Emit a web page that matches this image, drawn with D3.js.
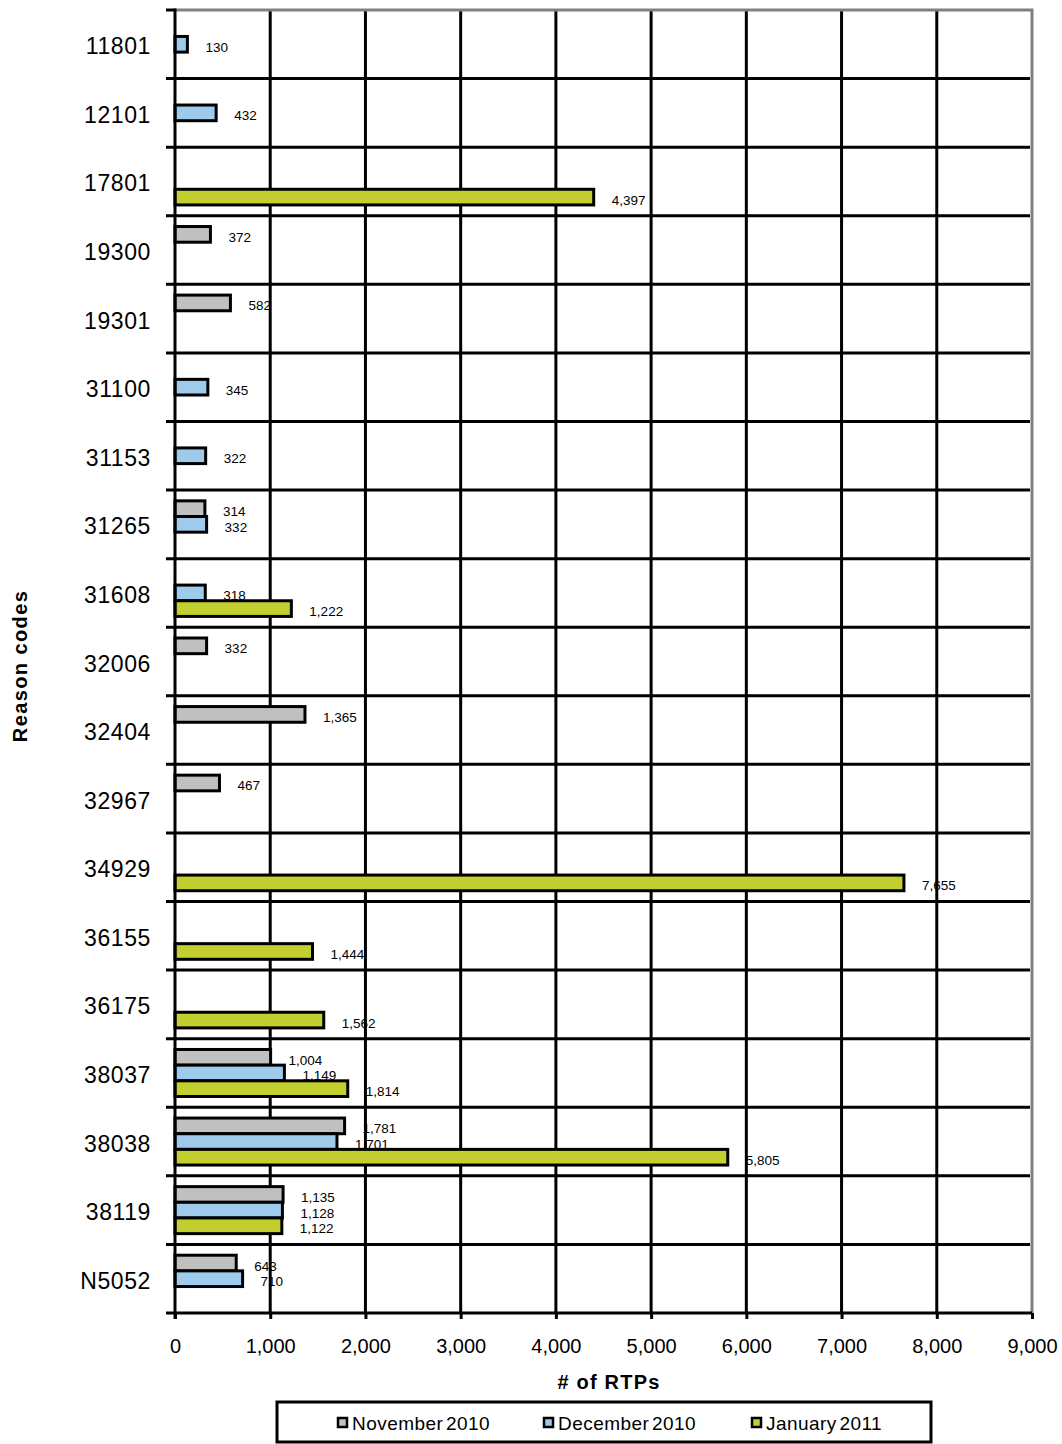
<!DOCTYPE html>
<html>
<head>
<meta charset="utf-8">
<script src="https://cdn.jsdelivr.net/npm/d3@7"></script>
<style>
  html, body { margin: 0; padding: 0; background: #fff; }
  svg { display: block; font-family: "Liberation Sans", Arial, sans-serif; }
</style>
</head>
<body>
<svg id="chart" width="1062" height="1444"></svg>
<script>
// Reason codes, top to bottom
const categories = ["11801","12101","17801","19300","19301","31100","31153","31265","31608",
  "32006","32404","32967","34929","36155","36175","38037","38038","38119","N5052"];

// RTP counts per month (null = no bar)
const november2010 = [null,null,null,372,582,null,null,314,null,332,1365,467,null,null,null,1004,1781,1135,643];
const december2010 = [130,432,null,null,null,345,322,332,318,null,null,null,null,null,null,1149,1701,1128,710];
const january2011  = [null,null,4397,null,null,null,null,null,1222,null,null,null,7655,1444,1562,1814,5805,1122,null];

const seriesNames = ["November 2010","December 2010","January 2011"];
const seriesColors = ["#c0c0c0","#9ecbec","#c3cf2f"];
const xTickValues = [0,1000,2000,3000,4000,5000,6000,7000,8000,9000];

const series = [november2010, december2010, january2011].map((vals, i) => ({
  name: seriesNames[i], color: seriesColors[i], values: vals
}));

const plot = { left: 175, right: 1032, top: 10, bottom: 1313 };

const svg = d3.select("#chart");
const fmt = d3.format(",");

const x = d3.scaleLinear().domain([0, 9000]).range([plot.left, plot.right]);
const y = d3.scaleBand().domain(categories).range([plot.top, plot.bottom]).padding(0);
const bw = y.bandwidth();
const groupH = 47;
const sub = d3.scaleBand().domain(seriesNames)
  .range([(bw - groupH) / 2, (bw + groupH) / 2]).padding(0);

// Value labels (drawn first, so gridlines and bars sit over them)
const labelLayer = svg.append("g");
series.forEach(s => {
  s.values.forEach((v, i) => {
    if (v == null) return;
    const cy = y(categories[i]) + sub(s.name) + sub.bandwidth() / 2;
    labelLayer.append("text")
      .attr("x", x(v) + 18)
      .attr("y", cy + 3)
      .attr("dominant-baseline", "central")
      .attr("font-size", 13.5)
      .attr("fill", "#000")
      .text(fmt(v));
  });
});

// Vertical gridlines
svg.append("g").selectAll("line")
  .data(xTickValues.filter(d => d > 0 && d < 9000))
  .join("line")
  .attr("x1", d => x(d)).attr("x2", d => x(d))
  .attr("y1", plot.top).attr("y2", plot.bottom)
  .attr("stroke", "#000").attr("stroke-width", 3);

// Horizontal gridlines between categories, with tick stubs left of the axis
const boundaries = categories.slice(1).map(c => y(c));
svg.append("g").selectAll("line")
  .data(boundaries)
  .join("line")
  .attr("x1", plot.left - 9).attr("x2", plot.right - 2)
  .attr("y1", d => d).attr("y2", d => d)
  .attr("stroke", "#000").attr("stroke-width", 3);

// Plot frame (top and right) in gray
svg.append("path")
  .attr("d", `M${plot.left},${plot.top}H${plot.right}V${plot.bottom}`)
  .attr("fill", "none").attr("stroke", "#808080").attr("stroke-width", 3);

// Bars
series.forEach(s => {
  svg.append("g").selectAll("rect")
    .data(s.values.map((v, i) => ({ v, c: categories[i] })).filter(d => d.v != null))
    .join("rect")
    .attr("x", x(0))
    .attr("y", d => y(d.c) + sub(s.name))
    .attr("width", d => x(d.v) - x(0))
    .attr("height", sub.bandwidth())
    .attr("fill", s.color)
    .attr("stroke", "#000")
    .attr("stroke-width", 3);
});

// Category axis
svg.append("line")
  .attr("x1", plot.left).attr("x2", plot.left)
  .attr("y1", plot.top - 1.5).attr("y2", plot.bottom + 6)
  .attr("stroke", "#000").attr("stroke-width", 3);
svg.append("line")
  .attr("x1", plot.left - 9).attr("x2", plot.left)
  .attr("y1", plot.top).attr("y2", plot.top)
  .attr("stroke", "#000").attr("stroke-width", 3);

svg.append("g").selectAll("text")
  .data(categories)
  .join("text")
  .attr("x", 151)
  .attr("y", d => y(d) + bw / 2 + 2)
  .attr("text-anchor", "end")
  .attr("dominant-baseline", "central")
  .attr("font-size", 23)
  .attr("letter-spacing", 0.6)
  .attr("fill", "#000")
  .text(d => d);

// Value axis
const xAxis = svg.append("g")
  .attr("transform", `translate(0,${plot.bottom})`)
  .call(d3.axisBottom(x).tickValues(xTickValues).tickFormat(fmt).tickSize(6).tickSizeOuter(0).tickPadding(20));
xAxis.select(".domain")
  .attr("d", `M${plot.left - 9},0H${plot.right}`)
  .attr("stroke", "#000").attr("stroke-width", 3);
xAxis.selectAll(".tick line").attr("stroke", "#000").attr("stroke-width", 3);
xAxis.selectAll(".tick text")
  .attr("font-size", 20)
  .attr("font-family", "Liberation Sans, Arial, sans-serif")
  .attr("fill", "#000");

// Axis titles
svg.append("text")
  .attr("x", 609).attr("y", 1382)
  .attr("text-anchor", "middle").attr("dominant-baseline", "central")
  .attr("font-size", 20).attr("font-weight", "bold")
  .attr("letter-spacing", 1.2)
  .text("# of RTPs");

svg.append("text")
  .attr("transform", "translate(20,666) rotate(-90)")
  .attr("text-anchor", "middle").attr("dominant-baseline", "central")
  .attr("font-size", 20).attr("font-weight", "bold")
  .attr("letter-spacing", 1.4)
  .text("Reason codes");

// Legend
const legend = svg.append("g");
legend.append("rect")
  .attr("x", 277).attr("y", 1402).attr("width", 654).attr("height", 40)
  .attr("fill", "#fff").attr("stroke", "#000").attr("stroke-width", 3);
const legendX = [337, 543, 751];
series.forEach((s, i) => {
  legend.append("rect")
    .attr("x", legendX[i] + 1).attr("y", 1418)
    .attr("width", 9).attr("height", 9)
    .attr("fill", s.color).attr("stroke", "#000").attr("stroke-width", 2.5);
  legend.append("text")
    .attr("x", legendX[i] + 15).attr("y", 1423)
    .attr("dominant-baseline", "central")
    .attr("font-size", 19)
    .attr("word-spacing", -3)
    .attr("letter-spacing", 0.45)
    .text(s.name);
});
</script>
</body>
</html>
